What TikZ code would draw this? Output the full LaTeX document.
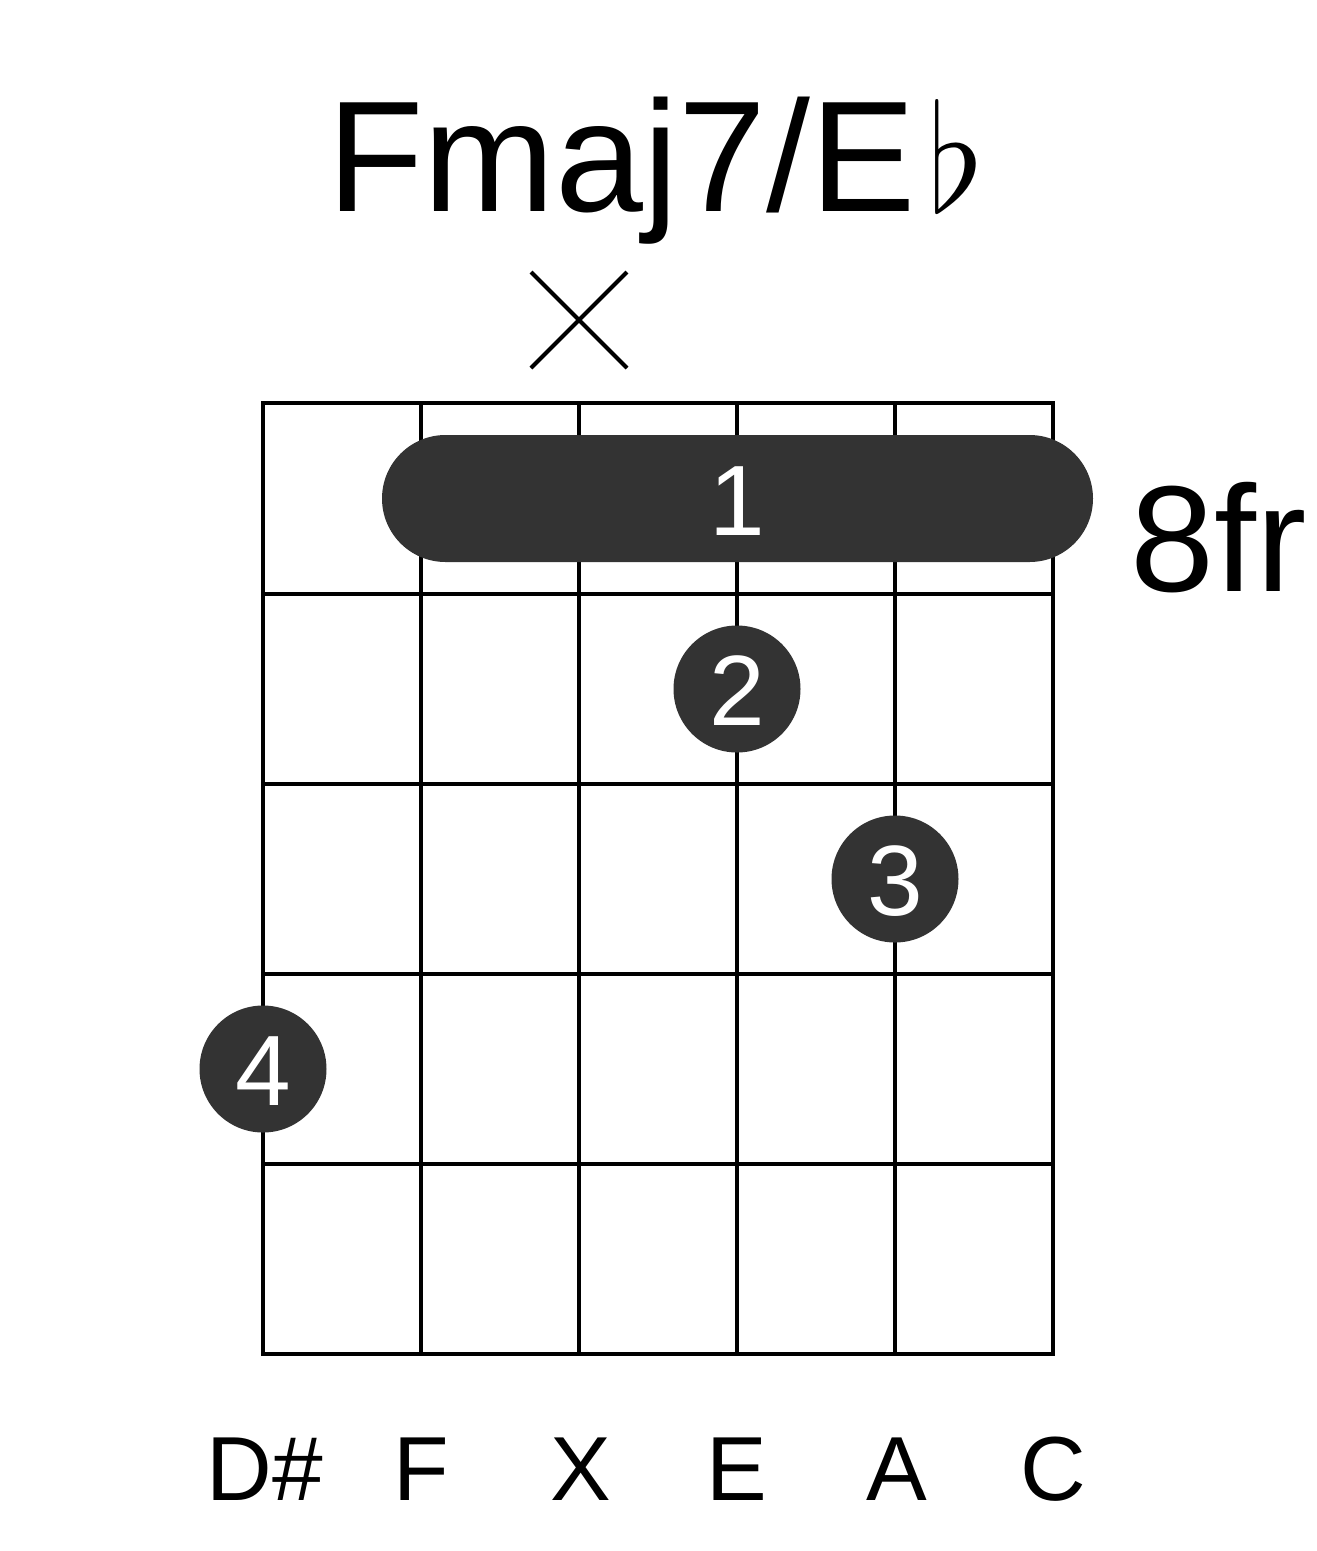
\documentclass[tikz,border=0pt]{standalone}
\usepackage{fontspec}
\setmainfont{Liberation Sans}
\usepackage{graphicx}
\tikzset{
  gridline/.style={line width=4pt, black},
  fingerdot/.style={circle, fill=dotgray, minimum size=127pt, inner sep=0pt, text=white, font=\fontsize{100}{100}\selectfont},
  barrebox/.style={rounded corners=63.5pt, fill=dotgray, draw=none, minimum width=711pt, minimum height=127pt, inner sep=0pt, text=white, font=\fontsize{100}{100}\selectfont},
  stringlabel/.style={anchor=base, inner sep=0pt, font=\fontsize{91}{91}\selectfont},
  mutemark/.style={line width=4pt, black},
}
\definecolor{dotgray}{HTML}{333333}
\begin{document}
\begin{tikzpicture}[x=1pt,y=-1pt]
\useasboundingbox (0,0) rectangle (1317,1551);
% title
\node[anchor=base, inner sep=0pt, font=\fontsize{158}{158}\selectfont] (title) at (656,211) {Fmaj7/E\hspace{12pt}\resizebox{!}{112pt}{$\flat$}};
% mute mark
\coordinate (m1) at (531,272);
\coordinate (m2) at (627,368);
\coordinate (m3) at (531,368);
\coordinate (m4) at (627,272);
\draw[mutemark] (m1) -- (m2);
\draw[mutemark] (m3) -- (m4);
% grid
\foreach \x in {263,421,579,737,895,1053} {
  \draw[gridline] (\x,403) -- (\x,1354);
}
\foreach \y in {403,594,784,974,1164,1354} {
  \draw[gridline] (261,\y) -- (1055,\y);
}
% barre
\node[barrebox] (barre) at (737.5,498.5) {};
\node[anchor=base, inner sep=0pt, text=white, font=\fontsize{100}{100}\selectfont] (b1) at (737,535) {1};
% dots
\node[fingerdot] (d2) at (737,689) {};
\node[anchor=base, inner sep=0pt, text=white, font=\fontsize{100}{100}\selectfont] (n2) at (737,725) {2};
\node[fingerdot] (d3) at (895,879) {};
\node[anchor=base, inner sep=0pt, text=white, font=\fontsize{100}{100}\selectfont] (n3) at (895,915) {3};
\node[fingerdot] (d4) at (263,1069) {};
\node[anchor=base, inner sep=0pt, text=white, font=\fontsize{100}{100}\selectfont] (n4) at (263,1105) {4};
% fret label
\node[anchor=base west, inner sep=0pt, font=\fontsize{151}{151}\selectfont] (fr) at (1130,591) {8fr};
% string labels
\node[stringlabel] (s1) at (265,1500) {D\#};
\node[stringlabel] (s2) at (421,1500) {F};
\node[stringlabel] (s3) at (581,1500) {X};
\node[stringlabel] (s4) at (737,1500) {E};
\node[stringlabel] (s5) at (897,1500) {A};
\node[stringlabel] (s6) at (1053,1500) {C};
\end{tikzpicture}
\end{document}
